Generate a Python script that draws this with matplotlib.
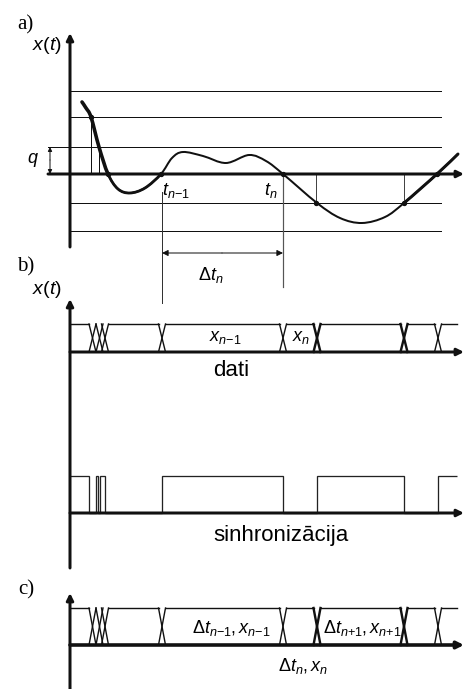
import numpy as np
import matplotlib
matplotlib.use("Agg")
import matplotlib.pyplot as plt
from matplotlib.path import Path
from matplotlib.patches import PathPatch

plt.rcParams['font.family'] = ['Liberation Sans', 'DejaVu Sans']
plt.rcParams['mathtext.fontset'] = 'custom'
plt.rcParams['mathtext.it'] = 'Liberation Sans:italic'
plt.rcParams['mathtext.rm'] = 'Liberation Sans'

# signal curve in panel a (picture coordinates, y grows downwards)
curve_x = [82, 86, 91, 99, 108, 118, 130, 145, 161, 172, 183, 203, 226, 249, 266, 283, 317, 340, 362, 385, 404, 437, 458]
curve_y = [102, 108, 117, 147, 174, 189, 193, 188, 174, 158, 152, 156, 163, 155, 161, 174, 203, 218, 223, 217, 203, 174, 154]
level_y = [91, 117, 147, 203, 231]          # quantisation levels
zero_y = 174
sample_x = [91, 99]                          # early samples
sample_top = [117, 147]
cross_x = [316, 404]                         # level crossings below zero
t_prev, t_now = 162, 283

# data bus transitions (b and c) and sync edges
bus_x = [92.5, 99.5, 105, 162, 283, 317, 404, 438]
bus_bold = [False, False, False, False, False, True, True, False]
sync_edges = [70, 89, 96, 98, 100, 105, 162, 283, 317, 404, 438, 457]

fig = plt.figure(figsize=(4.65, 6.89), dpi=100)
ax = fig.add_axes([0, 0, 1, 1])
ax.set_xlim(0, 465)
ax.set_ylim(689, 0)
ax.axis('off')

PX = 0.72
K = '#111111'


def arrow(p0, p1, lw=2.2, ms=9, style='-|>', color=K):
    ax.annotate('', xy=p1, xytext=p0,
                arrowprops=dict(arrowstyle=style, lw=lw, color=color,
                                mutation_scale=ms, shrinkA=0, shrinkB=0))


def bezier(xs, ys, i0, i1):
    pts = np.column_stack([xs, ys]).astype(float)
    n = len(pts)
    verts = [pts[i0]]
    codes = [Path.MOVETO]
    for i in range(i0, i1):
        p0 = pts[max(i - 1, 0)]
        p1 = pts[i]
        p2 = pts[i + 1]
        p3 = pts[min(i + 2, n - 1)]
        verts += [p1 + (p2 - p0) / 6, p2 - (p3 - p1) / 6, p2]
        codes += [Path.CURVE4] * 3
    return Path(verts, codes)


# ---------------- panel a ----------------
for y in level_y:
    ax.plot([70, 441], [y, y], color=K, lw=1.0 * PX)
ax.plot([48, 70], [147, 147], color=K, lw=1.0 * PX)
arrow((48, zero_y), (464, zero_y), lw=3 * PX, ms=10)
arrow((70, 247), (70, 33), lw=3 * PX, ms=10)

for x, yt in zip(sample_x, sample_top):
    ax.plot([x, x], [yt, zero_y], color=K, lw=1.0 * PX)
for x in cross_x:
    ax.plot([x, x], [zero_y, 203], color='#444444', lw=1.0 * PX)
ax.plot([t_prev, t_prev], [192, 303], color='#333333', lw=1.0 * PX)
ax.plot([t_now, t_now], [zero_y, 287], color='#555555', lw=1.2 * PX)

ax.add_patch(PathPatch(bezier(curve_x, curve_y, 0, len(curve_x) - 1),
                       fill=False, lw=2.0 * PX, ec=K, capstyle='round'))
ax.add_patch(PathPatch(bezier(curve_x, curve_y, 0, 4), fill=False, lw=3.6 * PX, ec=K, capstyle='round'))
ax.add_patch(PathPatch(bezier(curve_x, curve_y, 4, 8), fill=False, lw=2.8 * PX, ec=K))
ax.add_patch(PathPatch(bezier(curve_x, curve_y, 20, 22), fill=False, lw=3.0 * PX, ec=K, capstyle='round'))

dots_x = [91, 108, 161, 283, 316, 404, 437]
dots_y = [117, 174, 174, 174, 203, 203, 174]
ax.scatter(dots_x, dots_y, s=8, color=K, zorder=5)

arrow((50, 160), (50, 147), lw=1 * PX, ms=6, style='-|>')
arrow((50, 160), (50, 174), lw=1 * PX, ms=6, style='-|>')
arrow((222, 253), (t_prev, 253), lw=1 * PX, ms=9)
arrow((222, 253), (t_now, 253), lw=1 * PX, ms=9)

ax.text(25, 25, 'a)', family='Liberation Serif', fontsize=15, ha='center', va='center')
ax.text(47, 45, r'$x(t)$', fontsize=14, ha='center', va='center')
ax.text(33, 160, r'$q$', fontsize=13, ha='center', va='center')
ax.text(176, 190, r'$t_{n\mathrm{-1}}$', fontsize=13, ha='center', va='center')
ax.text(271, 190, r'$t_n$', fontsize=13, ha='center', va='center')
ax.text(211, 275, r'$\Delta t_n$', fontsize=13, ha='center', va='center')


# ---------------- bus helper ----------------
def bus(top, bot, hw=3.5):
    # top line segments between transitions
    starts = [70] + [x + hw for x in bus_x]
    ends = [x - hw for x in bus_x] + [457]
    for s, e in zip(starts, ends):
        if e > s:
            ax.plot([s, e], [top, top], color=K, lw=1.4 * PX)
    for x, b in zip(bus_x, bus_bold):
        w = 2.4 if b else 1.4
        ax.plot([x - hw, x + hw], [top, bot], color=K, lw=w * PX)
        ax.plot([x - hw, x + hw], [bot, top], color=K, lw=w * PX)


# ---------------- panel b ----------------
arrow((70, 568), (70, 299), lw=3 * PX, ms=10)
arrow((70, 352), (464, 352), lw=3 * PX, ms=10)
bus(324, 352)
ax.text(26, 267, 'b)', family='Liberation Serif', fontsize=15, ha='center', va='center')
ax.text(47, 290, r'$x(t)$', fontsize=14, ha='center', va='center')
ax.text(225, 338, r'$x_{n\mathrm{-1}}$', fontsize=13, ha='center', va='center')
ax.text(301, 338, r'$x_n$', fontsize=13, ha='center', va='center')
ax.text(231, 370, 'dati', fontsize=16, ha='center', va='center')

arrow((70, 513), (464, 513), lw=3 * PX, ms=10)
levels = [476 if i % 2 == 0 else 513 for i in range(len(sync_edges) - 1)]
ax.stairs(levels, sync_edges, baseline=None, color='#222222', lw=1.3 * PX)
ax.text(281, 535, 'sinhronizācija', fontsize=16, ha='center', va='center')

# ---------------- panel c ----------------
arrow((70, 689), (70, 593), lw=3 * PX, ms=10)
arrow((70, 645), (464, 645), lw=3.6 * PX, ms=10)
bus(608, 645)
ax.text(26, 590, 'c)', family='Liberation Serif', fontsize=15, ha='center', va='center')
ax.text(231, 628, r'$\Delta t_{n\mathrm{-1}},x_{n\mathrm{-1}}$', fontsize=13, ha='center', va='center')
ax.text(362, 628, r'$\Delta t_{n\mathrm{+1}},x_{n\mathrm{+1}}$', fontsize=13, ha='center', va='center')
ax.text(303, 666, r'$\Delta t_n,x_n$', fontsize=13, ha='center', va='center')

fig.savefig('out.png', dpi=100)
